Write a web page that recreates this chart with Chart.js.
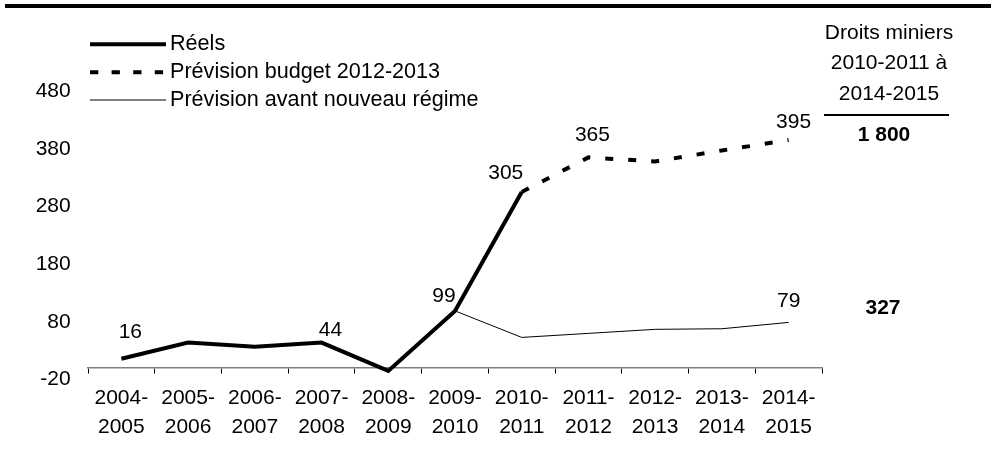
<!DOCTYPE html>
<html>
<head>
<meta charset="utf-8">
<script src="https://cdn.jsdelivr.net/npm/chart.js@4/dist/chart.umd.min.js"></script>
<style>
html,body{margin:0;padding:0;background:#fff;}
#wrap{position:relative;width:991px;height:461px;}
canvas{display:block;}
</style>
</head>
<body>
<div id="wrap"><canvas id="c" width="991" height="461"></canvas></div>
<script>
// ---- Data ----
const categories = ['2004-2005','2005-2006','2006-2007','2007-2008','2008-2009','2009-2010','2010-2011','2011-2012','2012-2013','2013-2014','2014-2015'];
const seriesNames = ['Réels','Prévision budget 2012-2013','Prévision avant nouveau régime'];
const reels = [16, 44, 37, 44, -5, 99, 305, null, null, null, null];
const previsionBudget = [null, null, null, null, null, null, 305, 365, 358, 377, 395];
const previsionAvant = [null, null, null, null, null, 99, 53, 60, 67, 68, 79];
const yTicks = [-20, 80, 180, 280, 380, 480];
const annotationTitle = ['Droits miniers', '2010-2011 à', '2014-2015'];
const totalBudget = '1 800';
const totalAvant = '327';
// which points carry a value label: [datasetIndex, pointIndex]
const labelledPoints = [[0,0],[0,3],[0,5],[0,6],[1,7],[1,10],[2,10]];

// ---- Styles / placement (not data) ----
const FONT = '"Liberation Sans", Arial, Helvetica, sans-serif';
const FS = 21;
const labelOffsets = [[9,-27],[9,-12],[-11,-15],[-16,-19],[4,-22],[5,-18],[0,-21]];

const overlay = {
  id: 'overlay',
  afterDraw(chart) {
    const ctx = chart.ctx;
    ctx.save();
    // top rule
    ctx.fillStyle = '#000';
    ctx.fillRect(5, 4, 986, 4);

    // legend
    const rows = [44.3, 72.3, 100];
    chart.data.datasets.forEach((ds, i) => {
      const y = rows[i];
      ctx.beginPath();
      ctx.lineWidth = ds.borderWidth;
      ctx.strokeStyle = ds.borderColor;
      ctx.setLineDash(ds.legendDash || ds.borderDash || []);
      ctx.lineCap = 'butt';
      ctx.moveTo(90, y);
      ctx.lineTo(166, y);
      ctx.stroke();
      ctx.setLineDash([]);
      ctx.fillStyle = '#000';
      ctx.font = '21.6px ' + FONT;
      ctx.textAlign = 'left';
      ctx.textBaseline = 'middle';
      ctx.fillText(ds.label, 170, y);
    });

    // value labels
    const xs = chart.scales.x, ys = chart.scales.y;
    ctx.font = FS + 'px ' + FONT;
    ctx.textAlign = 'center';
    ctx.textBaseline = 'middle';
    labelledPoints.forEach(([d, i], k) => {
      const v = chart.data.datasets[d].data[i];
      const px = xs.getPixelForValue(i) + labelOffsets[k][0];
      const py = ys.getPixelForValue(v) + labelOffsets[k][1];
      ctx.fillText(String(v), px, py);
    });

    // right annotation
    const cx = 889;
    annotationTitle.forEach((t, i) => ctx.fillText(t, cx, 33 + i * 30.5));
    ctx.beginPath();
    ctx.lineWidth = 2;
    ctx.strokeStyle = '#000';
    ctx.moveTo(824, 115);
    ctx.lineTo(949, 115);
    ctx.stroke();
    ctx.font = 'bold ' + FS + 'px ' + FONT;
    ctx.fillText(totalBudget, 884, 135);
    ctx.fillText(totalAvant, 883, 308);
    ctx.restore();
  }
};

new Chart(document.getElementById('c'), {
  type: 'line',
  data: {
    labels: categories.map(c => { const p = c.split('-'); return [p[0] + '-', p[1]]; }),
    datasets: [
      { label: seriesNames[0], data: reels, borderColor: '#000', borderWidth: 4, pointRadius: 0, spanGaps: false },
      { label: seriesNames[1], data: previsionBudget, borderColor: '#000', borderWidth: 4, borderDash: [8, 15], legendDash: [8.3, 13.3], pointRadius: 0, spanGaps: false },
      { label: seriesNames[2], data: previsionAvant, borderColor: '#000', borderWidth: 1, pointRadius: 0, spanGaps: false }
    ]
  },
  options: {
    responsive: false,
    animation: false,
    events: [],
    layout: { padding: { left: 0, right: 169, top: 91.04, bottom: 461 - 379.54 } },
    plugins: { legend: { display: false }, tooltip: { enabled: false } },
    elements: { line: { tension: 0 } },
    scales: {
      x: {
        type: 'category',
        position: { y: 0 },
        offset: true,
        grid: { display: true, drawOnChartArea: false, drawTicks: true, tickLength: 5, color: '#000', lineWidth: 1, offset: true },
        border: { display: true, color: '#808080', width: 1.5 },
        ticks: { color: '#000', font: { family: FONT, size: FS, lineHeight: 1.414 }, padding: 10, maxRotation: 0, minRotation: 0, autoSkip: false }
      },
      y: {
        min: yTicks[0],
        max: yTicks[yTicks.length - 1],
        afterBuildTicks: (s) => { s.ticks = yTicks.map(v => ({ value: v })); },
        afterFit: (s) => { s.width = 88; },
        grid: { display: false, drawTicks: false },
        border: { display: false },
        ticks: { color: '#000', font: { family: FONT, size: FS }, padding: 17.3 }
      }
    }
  },
  plugins: [overlay]
});
</script>
</body>
</html>
